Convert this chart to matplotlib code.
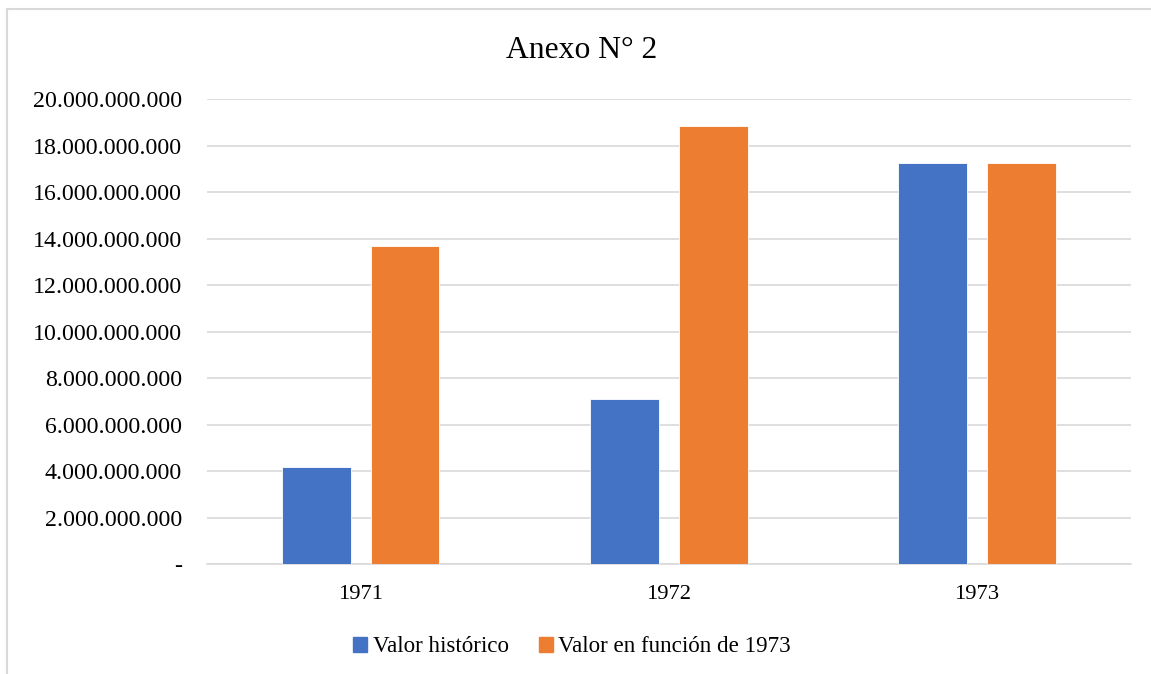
import matplotlib.pyplot as plt
import matplotlib.ticker as ticker
import numpy as np
from matplotlib.patches import Patch
from matplotlib.lines import Line2D

plt.rcParams['font.family'] = ['Liberation Serif', 'DejaVu Serif']

years = ['1971', '1972', '1973']
valor_historico = [4.20e9, 7.12e9, 17.26e9]
valor_1973 = [13.69e9, 18.86e9, 17.26e9]
series_names = ['Valor histórico', 'Valor en función de 1973']
colors = ['#4472C4', '#ED7D31']

fig = plt.figure(figsize=(11.51, 6.74), dpi=100)
ax = fig.add_axes([0.1798, 0.1628, 0.9826 - 0.1798, 0.853 - 0.1628])

x = np.arange(len(years))
w = 0.224
ax.bar(x - 0.143, valor_historico, width=w, color=colors[0], edgecolor='white', linewidth=0.6, zorder=3)
ax.bar(x + 0.143, valor_1973, width=w, color=colors[1], edgecolor='white', linewidth=0.6, zorder=3)

ax.set_xlim(-0.5, 2.5)
ax.set_ylim(0, 20e9)
ax.set_yticks(np.arange(0, 20e9 + 1, 2e9))
ax.set_xticks(x)
ax.set_xticklabels(years)

def fmt(v, pos):
    if v == 0:
        return '-'
    return f'{int(round(v)):,}'.replace(',', '.')

ax.yaxis.set_major_formatter(ticker.FuncFormatter(fmt))
ax.tick_params(axis='y', length=0, pad=18, labelsize=17.2, colors='#000000')
ax.tick_params(axis='x', length=0, pad=15, labelsize=16.2)
ax.grid(axis='y', color='#d9d9d9', linewidth=1.2, zorder=0)
for s in ['top', 'right', 'left']:
    ax.spines[s].set_visible(False)
ax.spines['bottom'].set_color('#d9d9d9')
ax.spines['bottom'].set_linewidth(1.2)

fig.text(582 / 1151, 1 - 50 / 674, 'Anexo N° 2', fontsize=22.8, ha='center', va='center')

handles = [Patch(color=c) for c in colors]
fig.legend(handles, series_names, loc='center', bbox_to_anchor=(572 / 1151, 1 - 647 / 674),
           ncol=2, frameon=False, fontsize=16.6, handlelength=0.6, handleheight=0.6,
           handletextpad=0.25, columnspacing=1.3)

# chart area border (top and left edges)
fig.add_artist(Line2D([7 / 1151, 1.0], [1 - 9 / 674] * 2, color='#d9d9d9', linewidth=1.5))
fig.add_artist(Line2D([7 / 1151] * 2, [0.0, 1 - 9 / 674], color='#d9d9d9', linewidth=1.5))

fig.savefig('out.png', dpi=100)
